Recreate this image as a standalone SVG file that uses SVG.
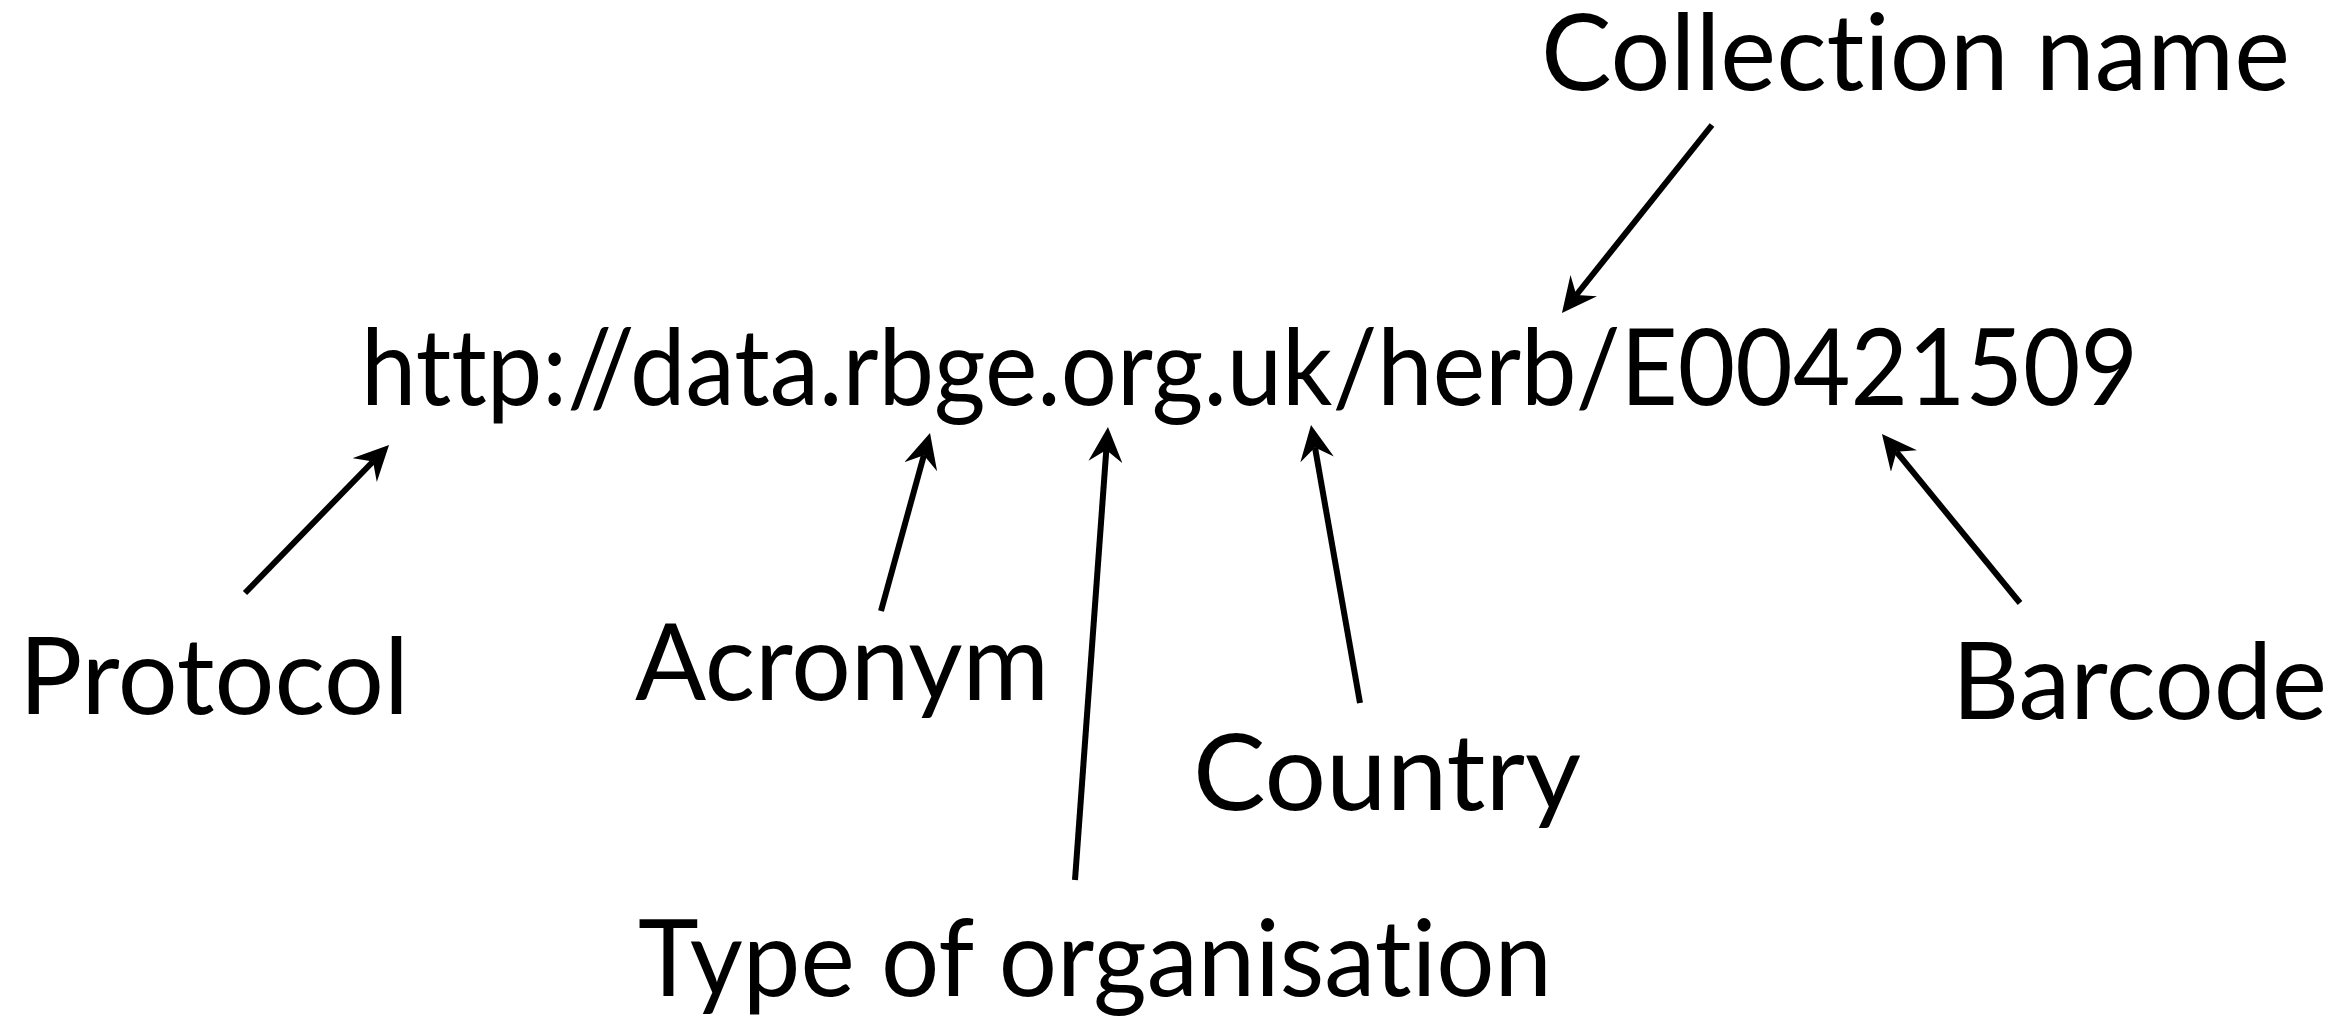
<svg xmlns="http://www.w3.org/2000/svg" width="2345" height="1023" viewBox="0 0 2345 1023">
<style>
text{font-family:"Gill Sans","Gill Sans MT",Lato,"Noto Sans",sans-serif;font-size:107px;fill:#000;font-variant-ligatures:none}
.c line{stroke:#000;stroke-width:6;fill:none;marker-end:url(#ah)}
</style>
<defs>
<marker id="ah" viewBox="0 0 35 34" refX="12" refY="17" markerWidth="35" markerHeight="34" markerUnits="userSpaceOnUse" orient="auto">
<path d="M35,17 L0,0 L12,17 L0,34 Z" fill="#000"/>
</marker>
</defs>
<rect width="2345" height="1023" fill="#fff"/>
<g id="url"><text x="361" y="405" textLength="1777" lengthAdjust="spacingAndGlyphs">http://data.rbge.org.uk/herb/E00421509</text></g>
<g id="collection"><text x="1541" y="90" textLength="749" lengthAdjust="spacingAndGlyphs">Collection name</text></g>
<g id="protocol"><text x="19" y="714" textLength="390" lengthAdjust="spacingAndGlyphs">Protocol</text></g>
<g id="acronym"><text x="635" y="700" textLength="414" lengthAdjust="spacingAndGlyphs">Acronym</text></g>
<g id="country"><text x="1193" y="810" textLength="388" lengthAdjust="spacingAndGlyphs">Country</text></g>
<g id="barcode"><text x="1952" y="719" textLength="375" lengthAdjust="spacingAndGlyphs">Barcode</text></g>
<g id="type"><text x="638" y="996" textLength="914" lengthAdjust="spacingAndGlyphs">Type of organisation</text></g>
<g id="connectors" class="c">
<line x1="245" y1="593" x2="373" y2="461.5"/>
<line x1="881" y1="611" x2="923.9" y2="455.2"/>
<line x1="1075" y1="880" x2="1106.3" y2="450"/>
<line x1="1360" y1="703" x2="1315" y2="447.6"/>
<line x1="2020" y1="603" x2="1896.5" y2="451.8"/>
<line x1="1712" y1="125" x2="1576.3" y2="295"/>
</g>
</svg>
